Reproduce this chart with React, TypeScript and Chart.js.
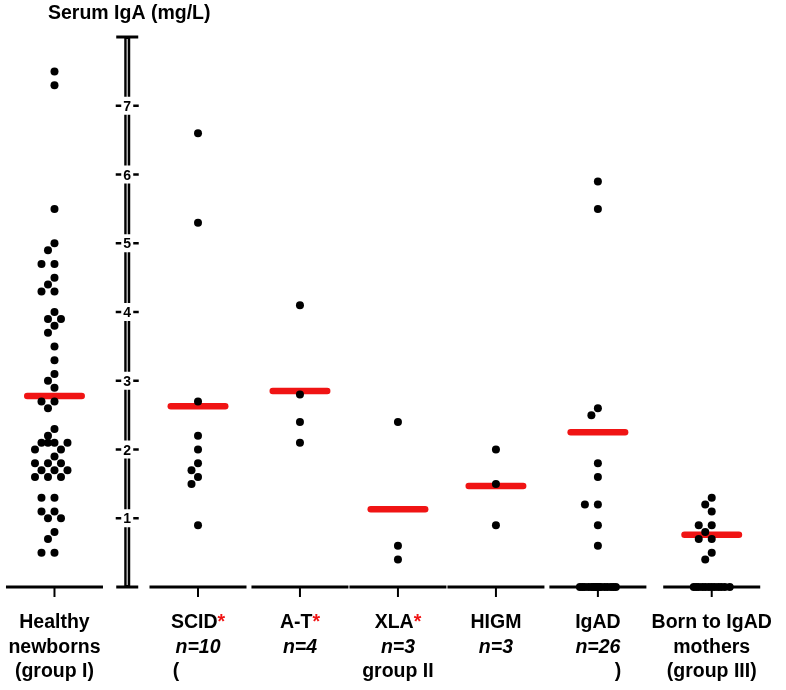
import React, { useEffect, useRef } from 'react';
import { Chart, registerables } from 'chart.js';

Chart.register(...registerables);

// ---------- data ----------
const yTitle = 'Serum IgA (mg/L)';
const groupNames = ['Healthy newborns', 'SCID', 'A-T', 'XLA', 'HIGM', 'IgAD', 'Born to IgAD mothers'];
const labelLine1 = ['Healthy', 'SCID', 'A-T', 'XLA', 'HIGM', 'IgAD', 'Born to IgAD'];
const labelStar = [false, true, true, true, false, false, false];
const labelLine2 = ['newborns', 'n=10', 'n=4', 'n=3', 'n=3', 'n=26', 'mothers'];
const line2Italic = [false, true, true, true, true, true, false];
const labelLine3 = ['(group I)', '(', '', 'group II', '', ')', '(group III)'];

const healthy = [7.5, 7.3, 5.5, 5.0, 4.9, 4.7, 4.7, 4.5, 4.4, 4.3, 4.3, 4.0, 3.9, 3.9, 3.8, 3.7, 3.5, 3.3, 3.1, 3.0, 2.9, 2.7, 2.7, 2.6, 2.3, 2.2, 2.1, 2.1, 2.1, 2.1, 2.0, 2.0, 1.9, 1.8, 1.8, 1.8, 1.7, 1.7, 1.7, 1.6, 1.6, 1.6, 1.3, 1.3, 1.1, 1.1, 1.0, 1.0, 0.8, 0.7, 0.5, 0.5];
const scid = [6.6, 5.3, 2.7, 2.2, 2.0, 1.8, 1.7, 1.6, 1.5, 0.9];
const at = [4.1, 2.8, 2.4, 2.1];
const xla = [2.4, 0.6, 0.4];
const higm = [2.0, 1.5, 0.9];
const igad = [5.9, 5.5, 2.6, 2.5, 1.8, 1.6, 1.2, 1.2, 0.9, 0.6, 0, 0, 0, 0, 0, 0, 0, 0, 0, 0, 0, 0, 0, 0, 0, 0];
const born = [1.3, 1.2, 1.1, 0.9, 0.9, 0.8, 0.7, 0.7, 0.5, 0.4, 0, 0, 0, 0, 0, 0, 0, 0, 0, 0, 0, 0];
const groupValues = [healthy, scid, at, xla, higm, igad, born];
const centralLines = [2.78, 2.63, 2.85, 1.13, 1.47, 2.25, 0.76];

// ---------- layout ----------
const groupPos = [0.51, 1.96, 2.99, 3.98, 4.97, 6.0, 7.15];
const axisPos = 1.245;
const X_MAX = 7.86;
const Y_MAX = 8;
const RED = '#f01414';
const FONT = "'Liberation Sans', Arial, sans-serif";
const DOT_R = 4;

function swarm(values: number[], cx: number, xs: any, ys: any) {
  const s = 6.5, d = 7.5, maxW = 18;
  const placed: { x: number; y: number }[] = [];
  const order = values.map((_, i) => i).sort((a, b) => values[b] - values[a]);
  const res: { x: number; y: number }[] = new Array(values.length);
  order.forEach((i) => {
    const py = ys.getPixelForValue(values[i]);
    const ok = (ox: number) => placed.every((p) => Math.hypot(p.x - ox, p.y - py) >= d - 1e-6);
    let off: number | null = null;
    for (const k of [0, -1, 1, -2, 2, -3, 3]) {
      if (ok(k * s)) { off = k * s; break; }
    }
    if (off === null) {
      let best = 0, bestD = -1;
      for (let o = -maxW; o <= maxW + 1e-9; o += 0.5) {
        const md = Math.min(...placed.map((p) => Math.hypot(p.x - o, p.y - py)));
        if (md > bestD + 1e-6 || (Math.abs(md - bestD) < 1e-6 && Math.abs(o) < Math.abs(best))) {
          bestD = md; best = o;
        }
      }
      off = best;
    }
    placed.push({ x: off, y: py });
    res[i] = { x: xs.getValueForPixel(cx + off), y: values[i] };
  });
  return res;
}

const decorPlugin = {
  id: 'decor',
  beforeDatasetsDraw(chart: any) {
    const { ctx, scales } = chart;
    const x = scales.x, y = scales.y;
    const y0 = y.getPixelForValue(0);
    const yTop = y.getPixelForValue(Y_MAX);
    const ax = x.getPixelForValue(axisPos);
    ctx.save();
    ctx.strokeStyle = '#000';
    ctx.lineCap = 'butt';
    const seg = (x1: number, y1: number, x2: number, y2: number) => {
      ctx.beginPath(); ctx.moveTo(x1, y1); ctx.lineTo(x2, y2); ctx.stroke();
    };
    // baseline segments + ticks
    groupPos.forEach((g) => {
      ctx.lineWidth = 3;
      seg(x.getPixelForValue(g - 0.49), y0, x.getPixelForValue(g + 0.49), y0);
      ctx.lineWidth = 2;
      const gx = x.getPixelForValue(g);
      seg(gx, y0, gx, y0 + 10);
    });
    // y axis (double line)
    ctx.lineWidth = 6;
    seg(ax, yTop, ax, y0);
    ctx.strokeStyle = '#bdbdbd';
    ctx.lineWidth = 1.4;
    seg(ax, yTop + 2, ax, y0 - 2);
    ctx.strokeStyle = '#000';
    ctx.lineWidth = 3;
    seg(ax - 11, yTop, ax + 11, yTop);
    seg(ax - 11, y0, ax + 11, y0);
    // y ticks
    ctx.font = `bold 14px ${FONT}`;
    ctx.textAlign = 'center';
    ctx.textBaseline = 'alphabetic';
    y.ticks.forEach((t: any) => {
      if (t.value <= 0 || t.value >= Y_MAX) return;
      const ty = y.getPixelForValue(t.value);
      ctx.lineWidth = 2.5;
      ctx.strokeStyle = '#000';
      seg(ax - 11.5, ty, ax + 11.5, ty);
      ctx.fillStyle = '#fff';
      ctx.fillRect(ax - 6, ty - 9, 12, 18);
      ctx.fillStyle = '#000';
      ctx.fillText(String(t.value), ax, ty + 5);
    });
    ctx.restore();
  },
  afterDraw(chart: any) {
    const { ctx, scales } = chart;
    const x = scales.x, y = scales.y;
    const y0 = y.getPixelForValue(0);
    const ax = x.getPixelForValue(axisPos);
    ctx.save();
    ctx.fillStyle = '#000';
    ctx.textBaseline = 'alphabetic';
    ctx.font = `bold 19.5px ${FONT}`;
    ctx.textAlign = 'center';
    ctx.fillText(yTitle, ax + 2, 19);
    groupNames.forEach((_, i) => {
      const cx = x.getPixelForValue(groupPos[i]);
      // line 1
      ctx.font = `bold 19.5px ${FONT}`;
      const t1 = labelLine1[i];
      if (labelStar[i]) {
        const w1 = ctx.measureText(t1).width;
        const ws = ctx.measureText('*').width;
        const start = cx - (w1 + ws) / 2;
        ctx.textAlign = 'left';
        ctx.fillStyle = '#000';
        ctx.fillText(t1, start, y0 + 41);
        ctx.fillStyle = RED;
        ctx.fillText('*', start + w1, y0 + 41);
      } else {
        ctx.textAlign = 'center';
        ctx.fillStyle = '#000';
        ctx.fillText(t1, cx, y0 + 41);
      }
      // line 2
      ctx.fillStyle = '#000';
      ctx.textAlign = 'center';
      ctx.font = `${line2Italic[i] ? 'italic ' : ''}bold 19.5px ${FONT}`;
      ctx.fillText(labelLine2[i], cx, y0 + 65.5);
      // line 3
      ctx.font = `bold 19.5px ${FONT}`;
      const t3 = labelLine3[i];
      if (t3) {
        let px = cx;
        if (t3 === '(') px = cx - 22;
        if (t3 === ')') px = cx + 20;
        ctx.fillText(t3, px, y0 + 90);
      }
    });
    ctx.restore();
  },
};

export default function App() {
  const canvasRef = useRef<HTMLCanvasElement | null>(null);

  useEffect(() => {
    if (!canvasRef.current) return;
    const lineSets = centralLines.map((m, i) => ({
      type: 'line' as const,
      data: [
        { x: groupPos[i] - 0.275, y: m },
        { x: groupPos[i] + 0.275, y: m },
      ],
      borderColor: RED,
      borderWidth: 6.5,
      borderCapStyle: 'round' as const,
      pointRadius: 0,
      order: 2,
      clip: false as any,
    }));
    const dotSets = groupValues.map((vals, i) => ({
      type: 'scatter' as const,
      label: groupNames[i],
      data: vals.map((v) => ({ x: groupPos[i], y: v })),
      backgroundColor: '#000',
      borderWidth: 0,
      pointRadius: DOT_R,
      order: 1,
      clip: false as any,
    }));
    const chart = new Chart(canvasRef.current, {
      type: 'scatter',
      data: { datasets: [...lineSets, ...dotSets] as any },
      options: {
        responsive: false,
        animation: false,
        events: [],
        layout: { padding: { top: 37, bottom: 103, left: 0, right: 0 } },
        scales: {
          x: { type: 'linear', min: 0, max: X_MAX, display: false },
          y: { type: 'linear', min: 0, max: Y_MAX, display: false, ticks: { stepSize: 1 } },
        },
        plugins: { legend: { display: false }, tooltip: { enabled: false } },
      },
      plugins: [decorPlugin],
    });
    // beeswarm arrangement using the chart's own scales
    const xs = chart.scales.x, ys = chart.scales.y;
    groupValues.forEach((vals, i) => {
      const cx = xs.getPixelForValue(groupPos[i]);
      (chart.data.datasets[lineSets.length + i] as any).data = swarm(vals, cx, xs, ys);
    });
    chart.update('none');
    return () => chart.destroy();
  }, []);

  return (
    <div style={{ position: 'absolute', left: 0, top: 0, width: 786, height: 690, background: '#fff' }}>
      <canvas ref={canvasRef} width={786} height={690} style={{ display: 'block' }} />
    </div>
  );
}
